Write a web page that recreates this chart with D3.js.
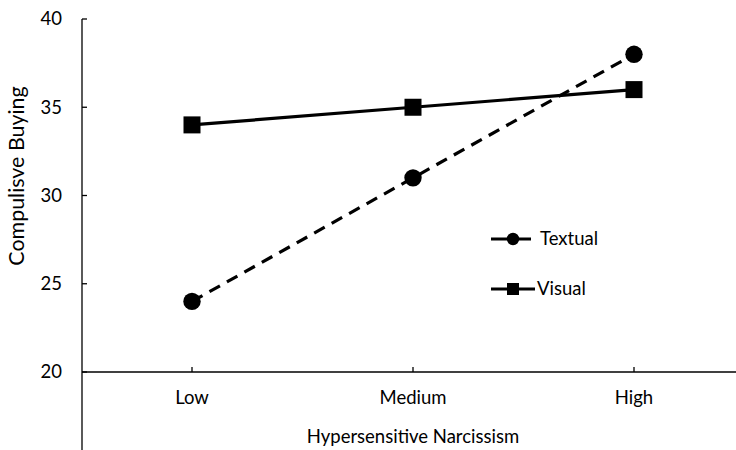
<!DOCTYPE html>
<html><head><meta charset="utf-8">
<script src="https://cdn.jsdelivr.net/npm/d3@7"></script>
<style>body{margin:0;background:#fff}svg{display:block}text{font-family:Lato,"Open Sans",sans-serif;fill:#000}</style>
</head><body><svg id="c" width="736" height="450"></svg>
<script>
const categories = ["Low", "Medium", "High"];
const textual = [24, 31, 38];
const visual = [34, 35, 36];
const yTicks = [20, 25, 30, 35, 40];
const seriesNames = ["Textual", "Visual"];

const svg = d3.select("#c");
const x = d3.scalePoint().domain(categories).range([192, 634]);
const y = d3.scaleLinear().domain([20, 40]).range([372, 19]);
const font = 18.5;

// y axis
svg.append("line").attr("x1",82).attr("x2",82).attr("y1",19).attr("y2",450).attr("stroke","#000").attr("stroke-width",1.3);
yTicks.forEach(t=>{
  svg.append("line").attr("x1",82).attr("x2",87).attr("y1",y(t)).attr("y2",y(t)).attr("stroke","#000").attr("stroke-width",1.3);
  svg.append("text").attr("x",62).attr("y",y(t)).attr("dy","0.35em").attr("text-anchor","end").attr("font-size",font).text(t);
});
// x axis
svg.append("line").attr("x1",82).attr("x2",736).attr("y1",372).attr("y2",372).attr("stroke","#000").attr("stroke-width",1.3);
categories.forEach(c=>{
  svg.append("line").attr("x1",x(c)).attr("x2",x(c)).attr("y1",372).attr("y2",367).attr("stroke","#000").attr("stroke-width",1.3);
  svg.append("text").attr("x",x(c)).attr("y",398).attr("dy","0.35em").attr("text-anchor","middle").attr("font-size",font).text(c);
});
svg.append("text").attr("x",413).attr("y",437).attr("dy","0.35em").attr("text-anchor","middle").attr("font-size",font).text("Hypersensitive Narcissism");
svg.append("text").attr("transform","translate(16,176) rotate(-90)").attr("dy","0.35em").attr("text-anchor","middle").attr("font-size",21.4).text("Compulisve Buying");

const line = d3.line().x((d,i)=>x(categories[i])).y(d=>y(d));
svg.append("path").datum(textual).attr("d",line).attr("fill","none").attr("stroke","#000").attr("stroke-width",3.2).attr("stroke-dasharray","12,8");
svg.append("path").datum(visual).attr("d",line).attr("fill","none").attr("stroke","#000").attr("stroke-width",3.2);
svg.selectAll(".c").data(textual).join("circle").attr("cx",(d,i)=>x(categories[i])).attr("cy",d=>y(d)).attr("r",8.7).attr("fill","#000");
svg.selectAll(".s").data(visual).join("rect").attr("x",(d,i)=>x(categories[i])-8.5).attr("y",d=>y(d)-8.5).attr("width",17).attr("height",17).attr("fill","#000");

// legend
const lg = [{n:seriesNames[0],y:239,shape:"circle",x2:531,tx:540},{n:seriesNames[1],y:289,shape:"rect",x2:535,tx:537}];
lg.forEach(l=>{
  svg.append("line").attr("x1",491).attr("x2",l.x2).attr("y1",l.y).attr("y2",l.y).attr("stroke","#000").attr("stroke-width",3.2);
  if(l.shape==="circle") svg.append("circle").attr("cx",513).attr("cy",l.y).attr("r",6.2).attr("fill","#000");
  else svg.append("rect").attr("x",507).attr("y",l.y-6).attr("width",12).attr("height",12).attr("fill","#000");
  svg.append("text").attr("x",l.tx).attr("y",l.y).attr("dy","0.35em").attr("font-size",font).text(l.n);
});
</script></body></html>
